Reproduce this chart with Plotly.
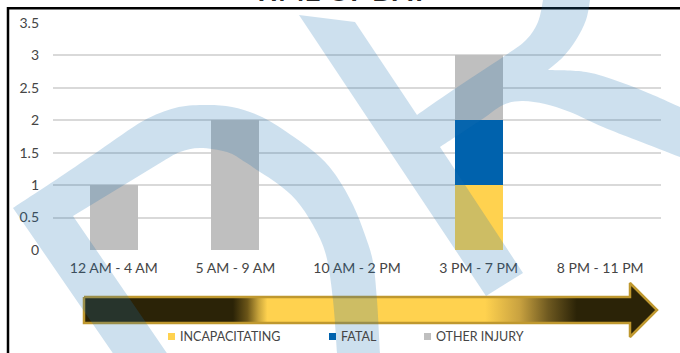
import plotly.graph_objects as go

# ---------------- data ----------------
categories = ["12 AM - 4 AM", "5 AM - 9 AM", "10 AM - 2 PM", "3 PM - 7 PM", "8 PM - 11 PM"]
incapacitating = [0, 0, 0, 1, 0]
fatal = [0, 0, 0, 1, 0]
other_injury = [1, 2, 0, 1, 0]
series_names = ["INCAPACITATING", "FATAL", "OTHER INJURY"]
series_values = [incapacitating, fatal, other_injury]
series_colors = ["#FFD24F", "#0062AD", "#BFBFBF"]
y_ticks = [0, 0.5, 1, 1.5, 2, 2.5, 3, 3.5]
title_text = "TIME OF DAY"

W, H = 680, 353
FONT = "Lato, 'Open Sans', sans-serif"
TXT = "#454545"

fig = go.Figure()

for name, vals, col in zip(series_names, series_values, series_colors):
    fig.add_trace(go.Bar(x=categories, y=vals, name=name, marker=dict(color=col, line=dict(width=0)),
                         showlegend=False, xaxis="x", yaxis="y"))

# ---------------- decoration: timeline arrow (pixel overlay axes) ----------------
ax_pts = [(84, 297), (630, 297), (630, 283), (657, 310), (630, 337), (630, 323), (84, 323), (84, 297)]
fig.add_trace(go.Scatter(
    x=[p[0] for p in ax_pts], y=[p[1] for p in ax_pts], mode="lines", fill="toself",
    line=dict(color="#BF982F", width=2.5),
    fillgradient=dict(type="horizontal", start=84, stop=657, colorscale=[
        [0.0, "#2B2307"], [0.26, "#2B2307"], [0.285, "#6B5518"], [0.305, "#C9A53C"],
        [0.32, "#FFD24F"], [0.70, "#FFD24F"], [0.76, "#C9A240"], [0.81, "#6E5920"],
        [0.86, "#2B2307"], [1.0, "#2B2307"]]),
    hoverinfo="skip", showlegend=False, xaxis="x2", yaxis="y2"))


def curve(pts):
    segs = []
    n = len(pts)
    for i in range(n - 1):
        p0 = pts[i - 1] if i > 0 else pts[i]
        p1, p2 = pts[i], pts[i + 1]
        p3 = pts[i + 2] if i + 2 < n else p2
        c1 = (p1[0] + (p2[0] - p0[0]) / 6, p1[1] + (p2[1] - p0[1]) / 6)
        c2 = (p2[0] - (p3[0] - p1[0]) / 6, p2[1] - (p3[1] - p1[1]) / 6)
        segs.append(f"C {c1[0]:.1f},{c1[1]:.1f} {c2[0]:.1f},{c2[1]:.1f} {p2[0]:.1f},{p2[1]:.1f}")
    return " ".join(segs)


shapes = []
# border
shapes.append(dict(type="rect", xref="x2", yref="y2", x0=8, y0=8.3, x1=700, y1=380,
                   line=dict(color="#000000", width=2.5), fillcolor="rgba(0,0,0,0)", layer="above"))

# legend (manual, compact like the original)
leg_x = [168, 329, 424]
annotations = []
for name, col, lx in zip(series_names, series_colors, leg_x):
    shapes.append(dict(type="rect", xref="x2", yref="y2", x0=lx, x1=lx + 7, y0=333, y1=340,
                       fillcolor=col, line=dict(width=0), layer="above"))
    annotations.append(dict(xref="x2", yref="y2", x=lx + 9.5, y=336.5, xanchor="left", yanchor="middle",
                            text=name, showarrow=False, font=dict(family=FONT, size=12.5, color=TXT)))

# title (mostly cut off above the frame, as in the original)
annotations.append(dict(xref="x2", yref="y2", x=341, y=9, xanchor="center", yanchor="bottom",
                        text="<b>" + title_text + "</b>", showarrow=False,
                        font=dict(family=FONT, size=28, color="#262626")))

# watermark
WM = "rgba(28,114,178,0.22)"
outer1 = [(13, 208), (60, 177), (100, 150), (143, 121), (175, 108), (203, 105), (232, 107), (262, 117),
          (294, 137), (320, 157), (337, 177), (353, 205), (365, 235), (373, 262), (377, 300), (380, 353),
          (381, 365)]
inner1 = [(337, 365), (337, 353), (333, 300), (326, 255), (313, 225), (296, 200), (278, 184), (260, 172),
          (245, 162), (227, 152), (200, 148), (180, 152), (165, 160)]
p1 = (f"M 121,365 L 13,208 {curve(outer1)} L 337,365 {curve(inner1)} L 73,216 L 175,365 Z")
shapes.append(dict(type="path", xref="x2", yref="y2", path=p1, fillcolor=WM, line=dict(width=0), layer="above"))

stroke_out = [(417, 115), (453, 90), (503, 57), (526, 40), (538, 22), (543, 0), (544, -10)]
stroke_in = [(591, -10), (590, 0), (586, 20), (576, 40), (563, 57), (548, 70)]
leg_top = [(548, 70), (586, 72), (620, 82), (653, 95), (680, 107), (695, 113)]
leg_bot = [(695, 163), (680, 157), (636, 140), (603, 127), (570, 112), (545, 104), (522, 101), (503, 105),
           (481, 120), (440, 147)]
p2 = (f"M 299,15 L 355,22 L 417,115 {curve(stroke_out)} L 591,-10 {curve(stroke_in)} "
      f"{curve(leg_top)} L 695,163 {curve(leg_bot)} L 523,273 L 486,296 Z")
shapes.append(dict(type="path", xref="x2", yref="y2", path=p2, fillcolor=WM, line=dict(width=0), layer="above"))

fig.update_layout(
    template="none",
    width=W, height=H, margin=dict(l=0, r=0, t=0, b=0, pad=0, autoexpand=False), autosize=False,
    paper_bgcolor="white", plot_bgcolor="rgba(0,0,0,0)",
    barmode="stack", bargap=0.605, showlegend=False,
    font=dict(family=FONT, color=TXT),
    xaxis=dict(domain=[53 / W, 661 / W], anchor="y", type="category", showgrid=False, zeroline=False,
               showline=False, ticks="", tickfont=dict(size=14, color=TXT), ticklabelstandoff=8,
               automargin=False, fixedrange=True),
    yaxis=dict(domain=[1 - 250 / H, 1 - 23 / H], anchor="x", range=[0, 3.5], tickvals=y_ticks,
               showgrid=True, gridcolor="#D9D9D9", gridwidth=2, zeroline=False, showline=False,
               ticks="", tickfont=dict(size=14, color=TXT), ticklabelstandoff=13,
               automargin=False, fixedrange=True),
    xaxis2=dict(domain=[0, 1], anchor="y2", range=[0, W], visible=False, automargin=False,
                showgrid=False, zeroline=False, fixedrange=True),
    yaxis2=dict(domain=[0, 1], anchor="x2", range=[H, 0], visible=False, automargin=False,
                showgrid=False, zeroline=False, fixedrange=True),
    shapes=shapes, annotations=annotations,
)

post = ("document.documentElement.style.margin='0';document.body.style.margin='0';"
        "document.body.style.padding='0';document.documentElement.style.overflow='hidden';"
        "document.body.style.overflow='hidden';"
        "var gd=document.getElementById('{plot_id}');gd.style.position='fixed';"
        "gd.style.left='0px';gd.style.top='0px';")

fig.write_html("out.html", config={"displayModeBar": False, "responsive": False}, post_script=post)
